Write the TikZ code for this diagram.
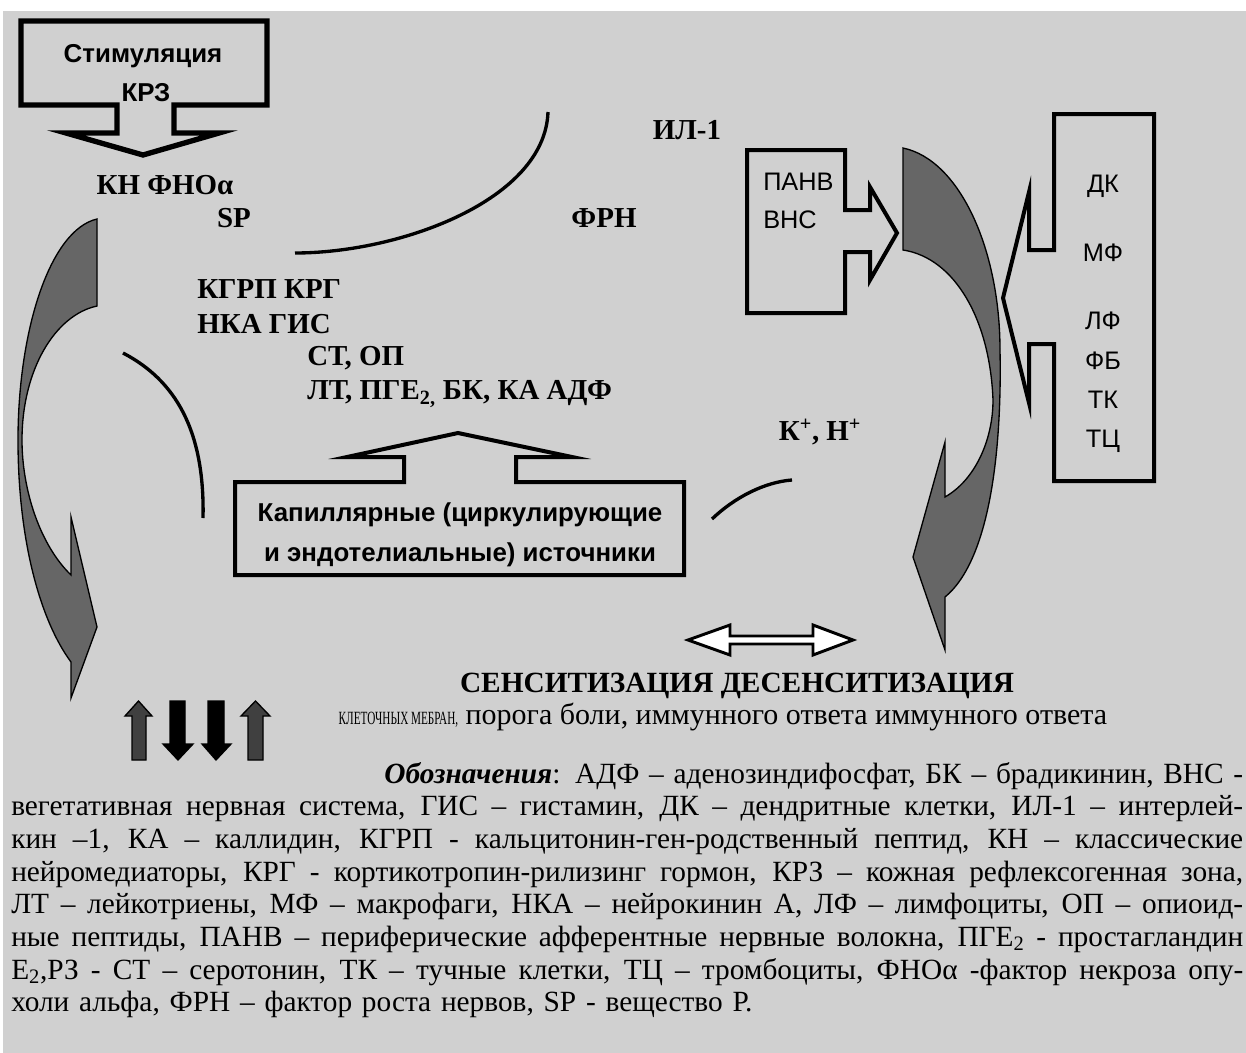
\documentclass[tikz,border=0pt]{standalone}
\usepackage{fontspec}
\setmainfont{Liberation Serif}
\setsansfont{Liberation Sans}
\definecolor{bg}{RGB}{208,208,208}
\definecolor{bandgray}{RGB}{102,102,102}
\definecolor{upgray}{RGB}{64,64,64}
\newcommand\legline[1]{\makebox[924pt][s]{\spaceskip=0.25em plus 1fil\relax #1}}
\begin{document}
\begin{tikzpicture}[x=0.75pt,y=0.75pt,yscale=-1,xscale=1,
  lbl/.style={inner sep=0.75pt, font=\bfseries\fontsize{21.7}{24}\selectfont},
  boxtxt/.style={inner sep=0.75pt, font=\sffamily\fontsize{19}{22}\selectfont},
  boxbold/.style={boxtxt, font=\sffamily\bfseries\fontsize{19.4}{22}\selectfont},
  callout/.style={draw, line width=3pt, line join=miter, fill=bg},
  band/.style={draw, line width=1pt, fill=bandgray},
  curve/.style={line width=2.5pt},
  uparr/.style={draw, line width=1pt, fill=upgray},
  downarr/.style={draw, line width=1pt, fill=black}]
\useasboundingbox (0,0) rectangle (1246,1053);
\fill[bg] (3,11) rectangle (1246,1053);

%Shape: Down Arrow Callout
\draw[callout, line width=4pt] (21,21) -- (267,21) -- (267,105) -- (174,105) -- (174,133) -- (219,133) -- (143,155) -- (66,133) -- (117,133) -- (117,105) -- (21,105) -- cycle;
%Shape: Right Arrow Callout
\draw[callout] (747,150) -- (845,150) -- (845,210) -- (870,210) -- (870,187) -- (897,233) -- (870,280) -- (870,252) -- (845,252) -- (845,313) -- (747,313) -- cycle;
%Shape: Left Arrow Callout
\draw[callout] (1054,114) -- (1154,114) -- (1154,481) -- (1054,481) -- (1054,344) -- (1029,344) -- (1029,403) -- (1003,298) -- (1029,192) -- (1029,250) -- (1054,250) -- cycle;
%Shape: Up Arrow Callout
\draw[callout] (235,482) -- (404,482) -- (404,457) -- (347,457) -- (458,433) -- (572,457) -- (516,457) -- (516,482) -- (684,482) -- (684,575) -- (235,575) -- cycle;

%Shape: Curved Arrow [left]
\draw[band] (97,219) .. controls (50,230) and (18,330) .. (18,440) .. controls (18,540) and (40,620) .. (71,662) -- (71,698) -- (97,627) -- (71,517) -- (71,575) .. controls (40,545) and (22,490) .. (22,440) .. controls (22,370) and (55,315) .. (97,306) -- cycle;
%Shape: Curved Arrow [right]
\draw[band] (903,148) .. controls (960,160) and (1000,250) .. (1000,350) .. controls (1002,450) and (990,560) .. (945,597) -- (945,650) -- (913,557) -- (945,442) -- (945,497) .. controls (975,480) and (993,440) .. (993,400) .. controls (990,320) and (955,258) .. (903,250) -- cycle;

%Curve Lines
\draw[curve] (295,253) .. controls (400,253) and (545,200) .. (548,112);
\draw[curve] (123,353) .. controls (175,380) and (205,430) .. (203,518);
\draw[curve] (712,519) .. controls (735,497) and (765,482) .. (792,480);

%Shape: Left-Right Arrow
\draw[line width=2.2pt, fill=white] (688,640) -- (730,625) -- (730,636) -- (813,636) -- (813,625) -- (853,640) -- (813,655) -- (813,644) -- (730,644) -- (730,655) -- cycle;

%Shape: Up / Down Arrows
\draw[uparr] (138.5,701) -- (152,716) -- (146,716) -- (146,760) -- (132,760) -- (132,716) -- (125,716) -- cycle;
\draw[downarr] (170,701) -- (185,701) -- (185,744) -- (193,744) -- (178,760) -- (163,744) -- (170,744) -- cycle;
\draw[downarr] (208,701) -- (224,701) -- (224,744) -- (231,744) -- (216,760) -- (202,744) -- (208,744) -- cycle;
\draw[uparr] (255.5,701) -- (270,716) -- (263,716) -- (263,760) -- (248,760) -- (248,716) -- (241,716) -- cycle;

% Text Node
\node[boxbold] (stim) at (143,56) {Стимуляция};
\node[boxbold] (krz) at (146,93) {КРЗ};
\node[boxtxt, anchor=west] (panv) at (762,182) {ПАНВ};
\node[boxtxt, anchor=west] (vns) at (762,220) {ВНС};
\node[boxtxt] (dk) at (1103,186) {ДК};
\node[boxtxt] (mf) at (1103,253) {МФ};
\node[boxtxt] (lf) at (1103,321) {ЛФ};
\node[boxtxt] (fb) at (1103,361) {ФБ};
\node[boxtxt] (tk) at (1103,400) {ТК};
\node[boxtxt] (tc) at (1103,441) {ТЦ};
\node[boxbold] (cap1) at (460,515) {Капиллярные (циркулирующие};
\node[boxbold] (cap2) at (460,555) {и эндотелиальные) источники};

% Text Node
\node[lbl] (kn) at (165,185) {КН ФНОα};
\node[lbl] (sp) at (234,218) {SP};
\node[lbl] (il) at (687,130) {ИЛ-1};
\node[lbl] (frn) at (604,218) {ФРН};
\node[lbl, anchor=west] (kgrp) at (196,289) {КГРП КРГ};
\node[lbl, anchor=west] (nka) at (196,324) {НКА ГИС};
\node[lbl, anchor=west] (st) at (306,358) {СТ, ОП};
\node[lbl, anchor=west] (lt) at (306,394) {ЛТ, ПГЕ\textsubscript{2,} БК, КА АДФ};
\node[lbl] (kh) at (820,432) {К\textsuperscript{+}, Н\textsuperscript{+}};

% Text Node
\node[lbl, font=\bfseries\fontsize{22}{26}\selectfont] (sens) at (737,686) {СЕНСИТИЗАЦИЯ ДЕСЕНСИТИЗАЦИЯ};
\node[inner sep=0.75pt, font=\fontsize{22.5}{25}\selectfont] (membr) at (723,717) {\scalebox{0.6}[1]{\fontsize{14}{16}\selectfont КЛЕТОЧНЫХ МЕБРАН,} порога боли, иммунного ответа иммунного ответа};

% Text Node
\node[anchor=north west, inner sep=0pt, text width=924pt, font=\fontsize{22}{24.5}\selectfont] (legend) at (11,762) {%
\makebox[924pt][r]{\textbf{\textit{Обозначения}}: АДФ – аденозиндифосфат, БК – брадикинин, ВНС -}\\
\legline{вегетативная нервная система, ГИС – гистамин, ДК – дендритные клетки, ИЛ-1 – интерлей-}\\
\legline{кин –1, КА – каллидин, КГРП - кальцитонин-ген-родственный пептид, КН – классические}\\
\legline{нейромедиаторы, КРГ - кортикотропин-рилизинг гормон, КРЗ – кожная рефлексогенная зона,}\\
\legline{ЛТ – лейкотриены, МФ – макрофаги, НКА – нейрокинин А, ЛФ – лимфоциты, ОП – опиоид-}\\
\legline{ные пептиды, ПАНВ – периферические афферентные нервные волокна, ПГЕ\textsubscript{2} - простагландин}\\
\legline{Е\textsubscript{2},РЗ - СТ – серотонин, ТК – тучные клетки, ТЦ – тромбоциты, ФНОα -фактор некроза опу-}\\
холи альфа, ФРН – фактор роста нервов, SP - вещество Р.};
\end{tikzpicture}
\end{document}
